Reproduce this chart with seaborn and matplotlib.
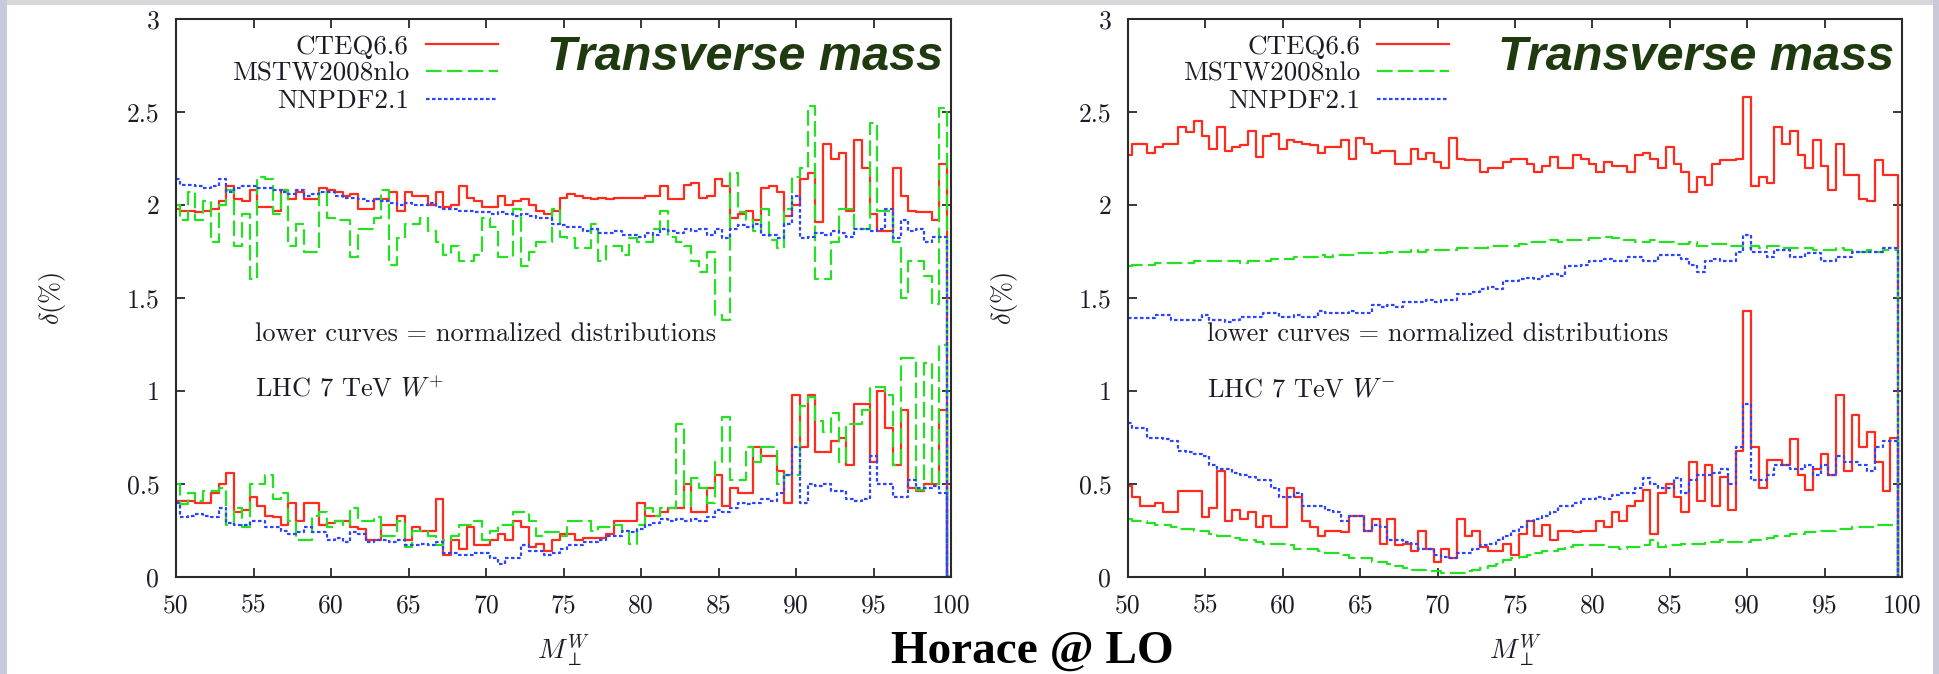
import numpy as np
import pandas as pd
import matplotlib
matplotlib.use("Agg")
import matplotlib.pyplot as plt
from matplotlib.patches import Rectangle
import seaborn as sns

# ---------------------------------------------------------------- data
# bin centres of the transverse-mass histograms (GeV); the last entry closes the histogram
mass_bins = np.arange(50.0, 100.01, 0.5)

pdf_sets = ["CTEQ6.6", "MSTW2008nlo", "NNPDF2.1"]

# W+ : PDF uncertainty on the absolute distributions (upper curves)
wp_cteq_abs = [1.98, 1.97, 1.97, 1.96, 1.97, 1.98, 2.02, 2.10, 2.03, 2.02,
               2.08, 1.99, 1.99, 1.97, 2.08, 2.03, 2.07, 2.03, 2.03, 2.09,
               2.08, 2.07, 2.05, 2.06, 1.98, 1.98, 2.03, 2.03, 2.07, 1.97,
               2.07, 2.05, 2.05, 2.00, 2.07, 1.99, 2.00, 2.10, 2.04, 2.02,
               1.99, 1.99, 2.05, 2.00, 2.02, 2.03, 2.00, 1.97, 1.95, 1.97,
               2.04, 2.06, 2.05, 2.04, 2.03, 2.04, 2.03, 2.04, 2.04, 2.04,
               2.04, 2.05, 2.05, 2.10, 2.03, 2.03, 2.11, 2.12, 2.04, 2.05,
               2.14, 2.10, 1.93, 1.95, 1.97, 1.92, 2.09, 2.10, 2.07, 1.94,
               2.00, 2.14, 2.17, 1.91, 2.33, 2.25, 2.28, 1.97, 2.35, 2.20,
               1.95, 1.86, 1.86, 2.20, 2.05, 1.97, 1.96, 1.96, 1.92, 2.22]
wp_mstw_abs = [2.00, 1.92, 2.07, 1.92, 2.02, 1.80, 2.00, 2.08, 1.78, 1.95,
               1.60, 2.15, 2.14, 1.95, 2.08, 1.78, 1.90, 1.75, 1.75, 2.07,
               1.93, 1.92, 1.92, 1.72, 1.87, 1.87, 1.93, 2.08, 1.68, 1.82,
               1.90, 1.90, 1.93, 1.86, 1.80, 1.73, 1.78, 1.70, 1.70, 1.73,
               1.93, 1.88, 1.72, 1.72, 1.98, 1.67, 1.75, 1.80, 1.80, 1.98,
               1.83, 1.82, 1.77, 1.77, 1.90, 1.70, 1.78, 1.78, 1.73, 1.82,
               1.80, 1.80, 1.87, 1.97, 1.83, 1.80, 1.78, 1.70, 1.64, 1.75,
               1.41, 1.38, 2.17, 1.96, 1.92, 1.86, 1.98, 1.81, 1.77, 1.98,
               2.15, 2.20, 2.53, 1.60, 1.60, 1.80, 1.98, 1.98, 1.87, 1.87,
               2.44, 1.97, 1.97, 1.80, 1.50, 1.70, 1.70, 1.62, 1.47, 2.52]
wp_nnpdf_abs = [2.14, 2.11, 2.11, 2.10, 2.09, 2.10, 2.14, 2.07, 2.09, 2.10,
                2.10, 2.09, 2.09, 2.08, 2.07, 2.06, 2.08, 2.05, 2.06, 2.07,
                2.07, 2.05, 2.04, 2.04, 2.03, 2.02, 2.03, 2.02, 2.01, 2.00,
                2.01, 2.00, 2.00, 2.01, 1.99, 1.98, 1.98, 1.97, 1.97, 1.96,
                1.96, 1.95, 1.96, 1.95, 1.94, 1.95, 1.94, 1.93, 1.93, 1.90,
                1.89, 1.88, 1.88, 1.86, 1.87, 1.85, 1.85, 1.86, 1.84, 1.84,
                1.83, 1.85, 1.84, 1.87, 1.86, 1.85, 1.87, 1.86, 1.87, 1.84,
                1.87, 1.82, 1.87, 1.89, 1.88, 1.90, 1.84, 1.84, 1.82, 1.90,
                2.05, 1.82, 1.83, 1.85, 1.84, 1.86, 1.85, 1.83, 1.87, 1.87,
                1.86, 1.87, 1.98, 1.82, 1.92, 1.86, 1.87, 1.80, 1.83, 1.83]

# W+ : PDF uncertainty on the normalized distributions (lower curves)
wp_cteq_norm = [0.41, 0.41, 0.41, 0.40, 0.40, 0.45, 0.50, 0.56, 0.35, 0.36,
                0.43, 0.38, 0.33, 0.32, 0.28, 0.40, 0.30, 0.40, 0.40, 0.28,
                0.29, 0.30, 0.30, 0.27, 0.26, 0.20, 0.20, 0.28, 0.28, 0.33,
                0.20, 0.27, 0.25, 0.25, 0.42, 0.12, 0.20, 0.15, 0.27, 0.17,
                0.17, 0.20, 0.23, 0.20, 0.30, 0.27, 0.16, 0.18, 0.14, 0.20,
                0.23, 0.23, 0.20, 0.21, 0.21, 0.21, 0.23, 0.30, 0.30, 0.30,
                0.40, 0.33, 0.33, 0.35, 0.37, 0.37, 0.50, 0.35, 0.35, 0.48,
                0.55, 0.38, 0.48, 0.45, 0.45, 0.70, 0.65, 0.65, 0.57, 0.40,
                0.98, 0.70, 0.98, 0.67, 0.67, 0.73, 0.75, 0.60, 0.93, 0.93,
                0.62, 1.00, 0.80, 0.60, 0.90, 0.48, 0.46, 0.50, 0.50, 0.90]
wp_mstw_norm = [0.50, 0.39, 0.45, 0.41, 0.46, 0.46, 0.48, 0.28, 0.37, 0.27,
                0.50, 0.50, 0.55, 0.42, 0.45, 0.30, 0.20, 0.20, 0.33, 0.35,
                0.27, 0.30, 0.28, 0.37, 0.30, 0.30, 0.32, 0.22, 0.22, 0.30,
                0.16, 0.25, 0.25, 0.22, 0.17, 0.20, 0.22, 0.28, 0.28, 0.30,
                0.20, 0.25, 0.28, 0.28, 0.35, 0.35, 0.30, 0.22, 0.24, 0.24,
                0.22, 0.30, 0.30, 0.30, 0.25, 0.27, 0.27, 0.28, 0.25, 0.18,
                0.28, 0.37, 0.33, 0.37, 0.37, 0.82, 0.38, 0.53, 0.48, 0.40,
                0.62, 0.86, 0.52, 0.52, 0.70, 0.62, 0.70, 0.70, 0.50, 0.55,
                0.55, 0.92, 0.97, 0.84, 0.78, 0.88, 0.62, 0.82, 0.82, 0.90,
                1.02, 1.02, 0.98, 0.60, 1.18, 1.18, 0.47, 1.15, 0.50, 1.25]
wp_nnpdf_norm = [0.40, 0.32, 0.33, 0.34, 0.33, 0.32, 0.37, 0.29, 0.28, 0.28,
                 0.30, 0.30, 0.27, 0.27, 0.25, 0.23, 0.24, 0.27, 0.24, 0.24,
                 0.20, 0.21, 0.19, 0.24, 0.23, 0.19, 0.20, 0.20, 0.19, 0.20,
                 0.17, 0.17, 0.18, 0.17, 0.19, 0.13, 0.13, 0.12, 0.12, 0.13,
                 0.13, 0.10, 0.07, 0.10, 0.10, 0.17, 0.14, 0.14, 0.12, 0.13,
                 0.15, 0.17, 0.17, 0.19, 0.19, 0.20, 0.22, 0.22, 0.25, 0.24,
                 0.26, 0.28, 0.29, 0.31, 0.30, 0.31, 0.30, 0.31, 0.30, 0.32,
                 0.36, 0.35, 0.37, 0.40, 0.39, 0.40, 0.42, 0.41, 0.45, 0.55,
                 0.70, 0.40, 0.50, 0.49, 0.50, 0.46, 0.46, 0.42, 0.41, 0.42,
                 0.65, 0.50, 0.50, 0.43, 0.43, 0.52, 0.48, 0.48, 0.49, 0.45]

# W- : absolute distributions (upper curves)
wm_cteq_abs = [2.27, 2.33, 2.33, 2.28, 2.31, 2.33, 2.33, 2.42, 2.39, 2.45,
               2.37, 2.30, 2.42, 2.29, 2.31, 2.32, 2.40, 2.26, 2.37, 2.38,
               2.30, 2.35, 2.34, 2.33, 2.32, 2.28, 2.31, 2.31, 2.35, 2.25,
               2.36, 2.33, 2.28, 2.29, 2.29, 2.22, 2.22, 2.30, 2.25, 2.28,
               2.23, 2.20, 2.36, 2.25, 2.24, 2.24, 2.18, 2.20, 2.20, 2.23,
               2.25, 2.25, 2.22, 2.18, 2.21, 2.26, 2.20, 2.20, 2.27, 2.25,
               2.22, 2.18, 2.23, 2.21, 2.21, 2.18, 2.27, 2.28, 2.25, 2.20,
               2.31, 2.22, 2.18, 2.07, 2.15, 2.11, 2.22, 2.24, 2.24, 2.25,
               2.58, 2.10, 2.15, 2.12, 2.42, 2.33, 2.40, 2.27, 2.20, 2.35,
               2.21, 2.08, 2.33, 2.16, 2.16, 2.03, 2.02, 2.24, 2.16, 2.16]
wm_mstw_abs = [1.67, 1.68, 1.68, 1.68, 1.69, 1.69, 1.69, 1.69, 1.69, 1.70,
               1.70, 1.70, 1.70, 1.70, 1.70, 1.69, 1.70, 1.70, 1.70, 1.71,
               1.71, 1.71, 1.72, 1.72, 1.72, 1.73, 1.72, 1.73, 1.73, 1.73,
               1.74, 1.74, 1.74, 1.74, 1.75, 1.75, 1.75, 1.76, 1.75, 1.76,
               1.76, 1.76, 1.76, 1.77, 1.77, 1.77, 1.77, 1.78, 1.78, 1.78,
               1.78, 1.79, 1.80, 1.80, 1.80, 1.81, 1.80, 1.81, 1.81, 1.81,
               1.82, 1.82, 1.83, 1.82, 1.81, 1.81, 1.80, 1.80, 1.81, 1.80,
               1.80, 1.79, 1.79, 1.80, 1.78, 1.78, 1.79, 1.79, 1.78, 1.78,
               1.77, 1.78, 1.77, 1.78, 1.78, 1.77, 1.77, 1.77, 1.77, 1.76,
               1.76, 1.76, 1.77, 1.76, 1.75, 1.75, 1.76, 1.75, 1.76, 1.76]
wm_nnpdf_abs = [1.39, 1.39, 1.39, 1.39, 1.41, 1.41, 1.38, 1.38, 1.38, 1.38,
                1.41, 1.38, 1.38, 1.37, 1.38, 1.40, 1.40, 1.40, 1.42, 1.42,
                1.40, 1.40, 1.41, 1.40, 1.40, 1.43, 1.42, 1.42, 1.42, 1.43,
                1.42, 1.42, 1.46, 1.45, 1.46, 1.45, 1.48, 1.48, 1.48, 1.49,
                1.48, 1.49, 1.49, 1.52, 1.52, 1.53, 1.55, 1.56, 1.55, 1.59,
                1.59, 1.60, 1.61, 1.60, 1.62, 1.63, 1.62, 1.67, 1.67, 1.68,
                1.70, 1.70, 1.71, 1.70, 1.70, 1.72, 1.72, 1.70, 1.70, 1.73,
                1.73, 1.73, 1.71, 1.68, 1.64, 1.70, 1.71, 1.70, 1.70, 1.75,
                1.84, 1.75, 1.75, 1.72, 1.76, 1.76, 1.72, 1.72, 1.74, 1.74,
                1.70, 1.70, 1.72, 1.72, 1.75, 1.75, 1.75, 1.75, 1.77, 1.77]

# W- : normalized distributions (lower curves)
wm_cteq_norm = [0.49, 0.43, 0.38, 0.38, 0.40, 0.35, 0.35, 0.46, 0.46, 0.46,
                0.32, 0.37, 0.57, 0.30, 0.36, 0.31, 0.35, 0.27, 0.33, 0.27,
                0.27, 0.48, 0.43, 0.30, 0.27, 0.22, 0.25, 0.25, 0.24, 0.33,
                0.33, 0.25, 0.31, 0.18, 0.31, 0.17, 0.18, 0.14, 0.25, 0.15,
                0.08, 0.15, 0.10, 0.31, 0.22, 0.25, 0.16, 0.14, 0.14, 0.18,
                0.12, 0.23, 0.30, 0.22, 0.28, 0.20, 0.25, 0.25, 0.24, 0.25,
                0.25, 0.30, 0.27, 0.35, 0.30, 0.38, 0.41, 0.47, 0.23, 0.45,
                0.50, 0.43, 0.35, 0.62, 0.41, 0.60, 0.38, 0.54, 0.36, 0.68,
                1.43, 0.70, 0.48, 0.63, 0.63, 0.60, 0.74, 0.55, 0.47, 0.58,
                0.66, 0.55, 0.98, 0.57, 0.87, 0.70, 0.78, 0.62, 0.46, 0.75]
wm_mstw_norm = [0.31, 0.30, 0.30, 0.29, 0.28, 0.28, 0.27, 0.26, 0.26, 0.25,
                0.25, 0.23, 0.22, 0.22, 0.21, 0.20, 0.20, 0.19, 0.18, 0.18,
                0.18, 0.17, 0.15, 0.15, 0.15, 0.14, 0.13, 0.13, 0.12, 0.10,
                0.10, 0.10, 0.08, 0.08, 0.07, 0.06, 0.05, 0.04, 0.04, 0.03,
                0.03, 0.02, 0.02, 0.02, 0.03, 0.04, 0.05, 0.06, 0.07, 0.09,
                0.10, 0.11, 0.12, 0.13, 0.14, 0.14, 0.15, 0.16, 0.17, 0.17,
                0.17, 0.17, 0.16, 0.16, 0.15, 0.16, 0.16, 0.17, 0.20, 0.16,
                0.17, 0.17, 0.18, 0.18, 0.18, 0.19, 0.19, 0.20, 0.19, 0.19,
                0.19, 0.20, 0.20, 0.21, 0.22, 0.22, 0.23, 0.23, 0.24, 0.24,
                0.25, 0.25, 0.26, 0.26, 0.27, 0.27, 0.27, 0.28, 0.28, 0.28]
wm_nnpdf_norm = [0.83, 0.80, 0.80, 0.75, 0.75, 0.74, 0.73, 0.68, 0.67, 0.66,
                 0.65, 0.60, 0.58, 0.58, 0.56, 0.55, 0.54, 0.52, 0.52, 0.48,
                 0.43, 0.43, 0.45, 0.38, 0.38, 0.38, 0.36, 0.35, 0.30, 0.33,
                 0.33, 0.25, 0.28, 0.27, 0.20, 0.20, 0.19, 0.18, 0.15, 0.15,
                 0.12, 0.11, 0.10, 0.13, 0.13, 0.15, 0.17, 0.18, 0.20, 0.22,
                 0.25, 0.27, 0.30, 0.31, 0.33, 0.35, 0.38, 0.38, 0.40, 0.42,
                 0.42, 0.43, 0.42, 0.44, 0.45, 0.45, 0.48, 0.53, 0.50, 0.48,
                 0.48, 0.53, 0.45, 0.52, 0.55, 0.55, 0.56, 0.58, 0.50, 0.70,
                 0.93, 0.52, 0.52, 0.55, 0.60, 0.60, 0.58, 0.58, 0.60, 0.55,
                 0.60, 0.55, 0.65, 0.62, 0.62, 0.60, 0.57, 0.70, 0.73, 0.73]

x_ticks = [50, 55, 60, 65, 70, 75, 80, 85, 90, 95, 100]
x_tick_labels = ["50", "55", "60", "65", "70", "75", "80", "85", "90", "95", "100"]
y_ticks = [0, 0.5, 1, 1.5, 2, 2.5, 3]
y_tick_labels = ["0", "0.5", "1", "1.5", "2", "2.5", "3"]

# ---------------------------------------------------------------- style
plt.rcParams["font.family"] = ["cmr10", "DejaVu Serif"]
plt.rcParams["mathtext.fontset"] = "cm"
plt.rcParams["axes.formatter.use_mathtext"] = True
plt.rcParams["axes.unicode_minus"] = False

line_colors = ["#ff2b1c", "#26e026", "#2a44ff"]
line_styles = ["-", (0, (7.0, 2.4)), (0, (1.6, 1.1))]
ink = "#1c1c28"

fig = plt.figure(figsize=(19.39, 6.74), dpi=100, facecolor="white")

# slide frame: grey band on top, lilac strips at the sides
fig.patches.append(Rectangle((0, 1 - 5 / 674), 1, 5 / 674, transform=fig.transFigure,
                             facecolor="#d7d7dc", edgecolor="none", zorder=0))
fig.patches.append(Rectangle((0, 0), 7 / 1939, 1, transform=fig.transFigure,
                             facecolor="#c9c9dc", edgecolor="none", zorder=0))
fig.patches.append(Rectangle((1 - 6 / 1939, 0), 6 / 1939, 1, transform=fig.transFigure,
                             facecolor="#c9c9dc", edgecolor="none", zorder=0))

ax_wp = fig.add_axes([176 / 1939, 97 / 674, 775 / 1939, 558 / 674])
ax_wm = fig.add_axes([1128 / 1939, 97 / 674, 774 / 1939, 558 / 674])


def draw_histogram(ax, values, idx, label=None):
    frame = pd.DataFrame({"mass": mass_bins, "delta": list(values) + [0.0]})
    sns.lineplot(data=frame, x="mass", y="delta", ax=ax, color=line_colors[idx],
                 linestyle=line_styles[idx], linewidth=1.6, drawstyle="steps-mid",
                 estimator=None, sort=False, errorbar=None, legend=False)
    line = ax.lines[-1]
    if label is not None:
        line.set_label(label)
    return line


def draw_panel(ax, upper, lower, charge):
    handles = []
    for i, (up, lo) in enumerate(zip(upper, lower)):
        handles.append(draw_histogram(ax, up, i, pdf_sets[i]))
        draw_histogram(ax, lo, i)

    ax.set_xlim(50, 100)
    ax.set_ylim(0, 3)
    ax.set_xticks(x_ticks)
    ax.set_xticklabels(x_tick_labels)
    ax.set_yticks(y_ticks)
    ax.set_yticklabels(y_tick_labels)
    ax.tick_params(direction="in", top=True, right=True, length=6.5, width=1.3,
                   labelsize=18.5, colors="#2a2a2a", labelcolor=ink)
    ax.tick_params(axis="x", pad=12)
    ax.tick_params(axis="y", pad=12)
    for sp in ax.spines.values():
        sp.set_linewidth(1.5)
        sp.set_color("#2a2a2a")

    ax.set_xlabel(r"$M_\perp^W$", fontsize=20, color=ink)
    ax.set_ylabel(r"$\delta(\%)$", fontsize=19, color=ink)
    ax.xaxis.set_label_coords(0.5, -0.10)
    ax.yaxis.set_label_coords(-0.139, 0.5)

    leg = ax.legend(handles=handles, loc="upper right", bbox_to_anchor=(0.415, 0.972),
                    markerfirst=False, frameon=False, fontsize=19.5,
                    handlelength=2.65, handletextpad=0.63, labelspacing=0.12,
                    borderpad=0, borderaxespad=0)
    for t in leg.get_texts():
        t.set_color(ink)

    ax.text(0.99, 0.909, "Transverse mass", transform=ax.transAxes, ha="right",
            va="baseline", fontsize=35, color="#1e3a0e", fontweight="bold",
            fontstyle="italic", family=["Liberation Sans", "DejaVu Sans"])
    ax.text(55.1, 1.27, "lower curves = normalized distributions", fontsize=19,
            color=ink, va="baseline")
    ax.text(55.1, 0.968, "LHC 7 TeV $W^{%s}$" % charge, fontsize=19, color=ink,
            va="baseline")


draw_panel(ax_wp, [wp_cteq_abs, wp_mstw_abs, wp_nnpdf_abs],
           [wp_cteq_norm, wp_mstw_norm, wp_nnpdf_norm], "+")
draw_panel(ax_wm, [wm_cteq_abs, wm_mstw_abs, wm_nnpdf_abs],
           [wm_cteq_norm, wm_mstw_norm, wm_nnpdf_norm], "-")

fig.text(1032 / 1939, 1 / 674, "Horace @ LO", ha="center", va="bottom",
         fontsize=34, fontweight="bold", family=["Liberation Serif", "DejaVu Serif"],
         color="black")

fig.savefig("out.png", dpi=100, facecolor="white")
